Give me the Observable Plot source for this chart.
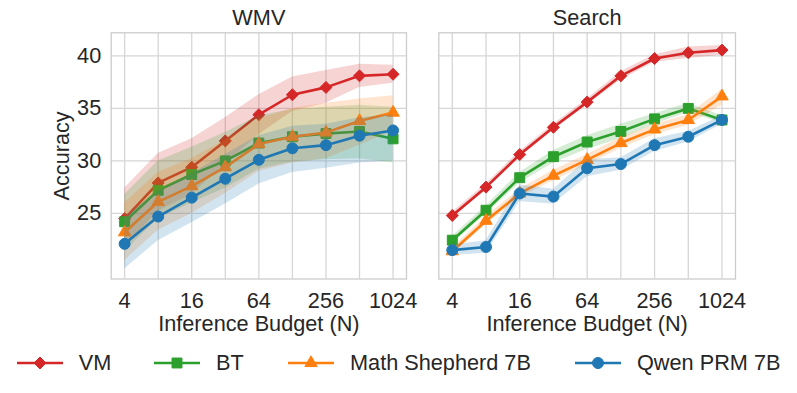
<!DOCTYPE html>
<html>
<head>
<meta charset="utf-8">
<script src="https://cdn.jsdelivr.net/npm/d3@7"></script>
<script src="https://cdn.jsdelivr.net/npm/@observablehq/plot@0.6"></script>
<style>
  body { margin: 0; background: #fff; font-family: "Liberation Sans", Arial, sans-serif; }
  #wrap { position: relative; width: 797px; height: 393px; overflow: hidden; }
  #left, #right, .leg { position: absolute; }
  #left { left: 0; top: 0; }
  #right { left: 422px; top: 0; }
  .leg { top: 350px; height: 26px; display: flex; align-items: center; font-size: 21.7px; color: #262626; white-space: nowrap; }
  .leg svg { margin-right: 16px; }
</style>
</head>
<body>
<div id="wrap">
  <div id="left"></div>
  <div id="right"></div>
</div>
<script>
// ---- data ----
const budgets = [4, 8, 16, 32, 64, 128, 256, 512, 1024];
const xTicks = [4, 16, 64, 256, 1024];
const yTicks = [25, 30, 35, 40];
const methods = ["VM", "BT", "Math Shepherd 7B", "Qwen PRM 7B"];
const panels = ["WMV", "Search"];

// WMV panel
const wmvVM    = [24.5, 27.9, 29.4, 31.9, 34.4, 36.3, 37.0, 38.1, 38.25];
const wmvVMLo  = [21.7, 25.2, 26.8, 29.7, 32.5, 34.7, 35.5, 37.0, 37.4];
const wmvVMHi  = [27.4, 30.7, 32.1, 34.1, 36.3, 38.0, 38.6, 39.2, 39.1];
const wmvBT    = [24.2, 27.2, 28.7, 30.0, 31.7, 32.3, 32.6, 32.8, 32.1];
const wmvBTLo  = [21.4, 24.5, 26.0, 27.4, 29.2, 29.9, 30.1, 30.2, 29.8];
const wmvBTHi  = [26.8, 30.0, 31.3, 32.7, 34.3, 34.9, 35.1, 35.3, 35.1];
const wmvMS    = [23.2, 26.1, 27.6, 29.4, 31.6, 32.3, 32.7, 33.8, 34.6];
const wmvMSLo  = [20.5, 23.4, 25.0, 26.9, 29.0, 29.8, 30.2, 31.5, 32.8];
const wmvMSHi  = [26.0, 28.9, 30.2, 32.0, 34.0, 35.0, 35.5, 35.9, 36.2];
const wmvQW    = [22.1, 24.7, 26.5, 28.3, 30.1, 31.2, 31.5, 32.4, 32.9];
const wmvQWLo  = [19.7, 22.4, 24.1, 25.9, 27.8, 28.9, 29.3, 29.8, 30.0];
const wmvQWHi  = [24.6, 27.1, 28.8, 30.6, 32.4, 33.3, 33.5, 34.1, 34.4];

// Search panel
const srVM     = [24.8, 27.5, 30.6, 33.2, 35.6, 38.1, 39.75, 40.3, 40.55];
const srVMLo   = [24.5, 27.2, 30.3, 32.9, 35.3, 37.7, 39.4, 39.75, 40.05];
const srVMHi   = [25.1, 27.8, 30.9, 33.5, 35.9, 38.5, 40.1, 40.85, 41.0];
const srBT     = [22.45, 25.3, 28.4, 30.4, 31.8, 32.8, 34.0, 35.0, 33.9];
const srBTLo   = [22.1, 24.9, 27.9, 29.8, 31.1, 32.1, 33.5, 34.6, 33.6];
const srBTHi   = [22.8, 25.7, 28.9, 31.0, 32.4, 33.5, 34.5, 35.5, 34.3];
const srMS     = [21.4, 24.3, 26.9, 28.6, 30.1, 31.7, 33.0, 33.9, 36.15];
const srMSLo   = [21.1, 23.9, 26.5, 28.1, 29.6, 31.2, 32.5, 33.4, 35.3];
const srMSHi   = [21.7, 24.7, 27.3, 29.1, 30.6, 32.2, 33.5, 34.4, 36.8];
const srQW     = [21.5, 21.8, 26.9, 26.6, 29.3, 29.7, 31.5, 32.3, 33.9];
const srQWLo   = [21.0, 21.2, 26.1, 25.9, 28.5, 29.1, 30.9, 31.8, 33.5];
const srQWHi   = [22.0, 22.4, 27.7, 27.3, 30.1, 30.3, 32.1, 32.8, 34.3];

const colors  = ["#d62728", "#2ca02c", "#ff7f0e", "#1f77b4"];
const symbols = ["diamond2", "square", "triangle", "circle"];
const radii   = [5.4, 5.6, 4.6, 5.5];

const panelData = {
  WMV: [[wmvVM, wmvVMLo, wmvVMHi], [wmvBT, wmvBTLo, wmvBTHi], [wmvMS, wmvMSLo, wmvMSHi], [wmvQW, wmvQWLo, wmvQWHi]],
  Search: [[srVM, srVMLo, srVMHi], [srBT, srBTLo, srBTHi], [srMS, srMSLo, srMSHi], [srQW, srQWLo, srQWHi]]
};

function rows(panel, mi) {
  const [m, lo, hi] = panelData[panel][mi];
  return budgets.map((b, i) => ({n: b, y: m[i], lo: lo[i], hi: hi[i]}));
}

const textColor = "#262626";
const gridColor = "#d6d6d6";
const fs = 21.7;

function makePanel(panel, opts) {
  const marks = [
    Plot.gridX(budgets, {stroke: gridColor, strokeOpacity: 1, strokeWidth: 1.3}),
    Plot.gridY(yTicks, {stroke: gridColor, strokeOpacity: 1, strokeWidth: 1.3}),
    Plot.frame({stroke: "#cccccc", strokeWidth: 1.3})
  ];
  methods.forEach((name, mi) => {
    const d = rows(panel, mi);
    marks.push(Plot.areaY(d, {x: "n", y1: "lo", y2: "hi", fill: colors[mi], fillOpacity: 0.2}));
    marks.push(Plot.line(d, {x: "n", y: "y", stroke: colors[mi], strokeWidth: 2.6}));
    marks.push(Plot.dot(d, {x: "n", y: "y", symbol: () => symbols[mi], r: radii[mi], fill: colors[mi], stroke: colors[mi], strokeWidth: 1}));
  });
  marks.push(Plot.text([panel], {frameAnchor: "top", lineAnchor: "middle", dy: -15, text: d => d, fontSize: fs, fill: textColor}));
  marks.push(Plot.axisX(xTicks, {tickSize: 0, tickPadding: 14, tickFormat: d => String(d), fontSize: fs, label: "Inference Budget (N)", labelAnchor: "center", labelArrow: "none", labelOffset: 52, color: textColor}));
  if (opts.yAxis) {
    marks.push(Plot.axisY(yTicks, {tickSize: 0, tickPadding: 10, fontSize: fs, label: "Accuracy", labelAnchor: "center", labelArrow: "none", labelOffset: 58, color: textColor}));
  }
  return Plot.plot({
    width: opts.width,
    height: 345,
    marginLeft: opts.ml,
    marginRight: opts.mr,
    marginTop: 32.3,
    marginBottom: 66.5,
    style: {fontFamily: "'Liberation Sans', Arial, sans-serif", fontSize: fs + "px", color: textColor, background: "transparent"},
    x: {type: "log", base: 2, domain: [Math.pow(2, 1.6), Math.pow(2, 10.4)]},
    y: {domain: [18.75, 42.2], axis: opts.yAxis ? undefined : null},
    marks
  });
}

document.getElementById("left").appendChild(makePanel("WMV", {width: 422, ml: 110.7, mr: 16, yAxis: true}));
document.getElementById("right").appendChild(makePanel("Search", {width: 375, ml: 16.3, mr: 62, yAxis: false}));

// ---- legend ----
const legendX = [16.7, 154, 288, 575];
const wrap = document.getElementById("wrap");
const symMap = {diamond2: d3.symbolDiamond2, square: d3.symbolSquare, triangle: d3.symbolTriangle, circle: d3.symbolCircle};
methods.forEach((name, mi) => {
  const item = document.createElement("div");
  item.className = "leg";
  item.style.left = legendX[mi] + "px";
  const svg = d3.create("svg").attr("width", 46).attr("height", 26);
  svg.append("line").attr("x1", 0).attr("x2", 46).attr("y1", 13).attr("y2", 13)
    .attr("stroke", colors[mi]).attr("stroke-width", 2.6);
  svg.append("path").attr("transform", "translate(23,13)")
    .attr("d", d3.symbol(symMap[symbols[mi]], radii[mi] * radii[mi] * Math.PI)())
    .attr("fill", colors[mi]).attr("stroke", colors[mi]);
  item.appendChild(svg.node());
  const span = document.createElement("span");
  span.textContent = name;
  item.appendChild(span);
  wrap.appendChild(item);
});
</script>
</body>
</html>
